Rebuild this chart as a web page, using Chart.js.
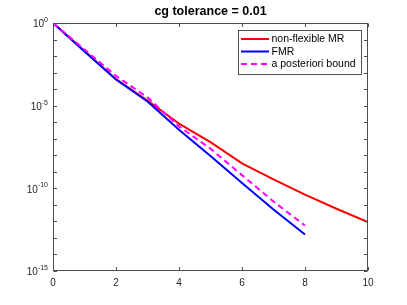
<!DOCTYPE html>
<html>
<head>
<meta charset="utf-8">
<script src="https://cdn.jsdelivr.net/npm/chart.js@4.4.1/dist/chart.umd.min.js"></script>
<style>
html,body{margin:0;padding:0;background:#fff;}
#wrap{width:407px;height:305px;position:relative;}
</style>
</head>
<body>
<div id="wrap"><canvas id="c" width="407" height="305"></canvas></div>
<script>
// ---- data ----
const titleText = "cg tolerance = 0.01";
const itersMR = [0,1,2,3,4,5,6,7,8,9,10];
const nonFlexibleMR = [1, 2e-2, 4e-4, 2e-5, 8.3e-7, 6.3e-8, 3.2e-9, 3.5e-10, 4.2e-11, 5.8e-12, 9e-13];
const itersFMR = [0,1,2,3,4,5,6,7,8];
const fmr = [1, 1.9e-2, 3.8e-4, 1.8e-5, 3.5e-7, 9e-9, 2.1e-10, 5.2e-12, 1.6e-13];
const bound = [1, 2.5e-2, 6.3e-4, 3.2e-5, 5.6e-7, 2.5e-8, 6.3e-10, 1.6e-11, 5.6e-13];
const xTicks = [0,2,4,6,8,10];
const yExpLabels = [0,-5,-10,-15];
const yDecades = [0,-1,-2,-3,-4,-5,-6,-7,-8,-9,-10,-11,-12,-13,-14,-15];
const seriesNames = ["non-flexible MR","FMR","a posteriori bound"];

const FONT = "'Liberation Sans', Arial, Helvetica, sans-serif";
const AX = '#262626';

function pts(xs, ys){ return xs.map((x,i)=>({x:x, y:ys[i]})); }

const frame = {
  id:'frame',
  afterDraw(chart){
    const ctx = chart.ctx, a = chart.chartArea;
    const xs = chart.scales.x, ys = chart.scales.y;
    ctx.save();
    ctx.strokeStyle = '#4d4d4d';
    ctx.lineWidth = 1;
    const L = Math.round(a.left)+0.5, R = Math.round(a.right)-0.5, T = Math.round(a.top)+0.5, B = Math.round(a.bottom)-0.5;
    ctx.strokeRect(L, T, R-L, B-T);
    ctx.beginPath();
    xTicks.forEach(v=>{
      const px = Math.round(xs.getPixelForValue(v))+0.5;
      ctx.moveTo(px,B); ctx.lineTo(px,B-3.5);
      ctx.moveTo(px,T); ctx.lineTo(px,T+3.5);
    });
    yDecades.forEach(e=>{
      const py = Math.round(ys.getPixelForValue(Math.pow(10,e)))+0.5;
      ctx.moveTo(L,py); ctx.lineTo(L+3.5,py);
      ctx.moveTo(R,py); ctx.lineTo(R-3.5,py);
    });
    ctx.stroke();
    ctx.fillStyle = AX;
    yExpLabels.forEach(e=>{
      const py = ys.getPixelForValue(Math.pow(10,e));
      const exp = String(e);
      ctx.font = '7px ' + FONT;
      ctx.textAlign = 'right';
      ctx.textBaseline = 'alphabetic';
      const ew = ctx.measureText(exp).width;
      const xr = a.left - 5;
      ctx.fillText(exp, xr, py - 1);
      ctx.font = '10px ' + FONT;
      ctx.textBaseline = 'middle';
      ctx.fillText('10', xr - ew, py + 1.5);
    });
    // legend
    const lx = 238, ly = 30, lw = 123, lh = 44;
    ctx.fillStyle = '#fff';
    ctx.fillRect(lx, ly, lw, lh);
    ctx.strokeStyle = '#262626';
    ctx.lineWidth = 0.8;
    ctx.strokeRect(lx+0.5, ly+0.5, lw, lh);
    const rows = [39, 51.5, 64];
    [0,1,2].forEach((di,i)=>{
      const ds = chart.data.datasets[di];
      ctx.beginPath();
      ctx.strokeStyle = ds.borderColor;
      ctx.lineWidth = 2;
      ctx.setLineDash(ds.borderDash || []);
      ctx.moveTo(241, rows[i]); ctx.lineTo(269, rows[i]);
      ctx.stroke();
      ctx.setLineDash([]);
      ctx.fillStyle = '#000';
      ctx.font = '10.5px ' + FONT;
      ctx.textAlign = 'left';
      ctx.textBaseline = 'middle';
      ctx.fillText(seriesNames[di], 271.5, rows[i]+0.5);
    });
    ctx.restore();
  }
};

new Chart(document.getElementById('c'), {
  type:'line',
  data:{
    datasets:[
      {label:seriesNames[0], data:pts(itersMR, nonFlexibleMR), borderColor:'#ff0000', borderWidth:2, order:3},
      {label:seriesNames[1], data:pts(itersFMR, fmr), borderColor:'#0000ff', borderWidth:2, order:2},
      {label:seriesNames[2], data:pts(itersFMR, bound), borderColor:'#ff00ff', borderWidth:2, borderDash:[6,4], order:1}
    ]
  },
  options:{
    responsive:false,
    animation:false,
    devicePixelRatio:1,
    layout:{padding:{left:53, right:39, top:0, bottom:0}},
    elements:{point:{radius:0}, line:{tension:0, fill:false}},
    plugins:{
      legend:{display:false},
      tooltip:{enabled:false},
      title:{display:true, text:titleText, color:'#000', font:{family:FONT, size:12.5, weight:'bold'}, padding:{top:4.5, bottom:3.5}}
    },
    scales:{
      x:{type:'linear', min:0, max:10,
         afterBuildTicks(s){ s.ticks = xTicks.map(v=>({value:v})); },
         afterFit(s){ s.height = 34; },
         grid:{display:false, drawTicks:false}, border:{display:false},
         ticks:{color:AX, padding:6, font:{family:FONT, size:10}, maxRotation:0}},
      y:{type:'logarithmic', min:1e-15, max:1,
         afterFit(s){ s.width = 0; },
         grid:{display:false, drawTicks:false}, border:{display:false},
         ticks:{display:false}}
    }
  },
  plugins:[frame]
});
</script>
</body>
</html>
